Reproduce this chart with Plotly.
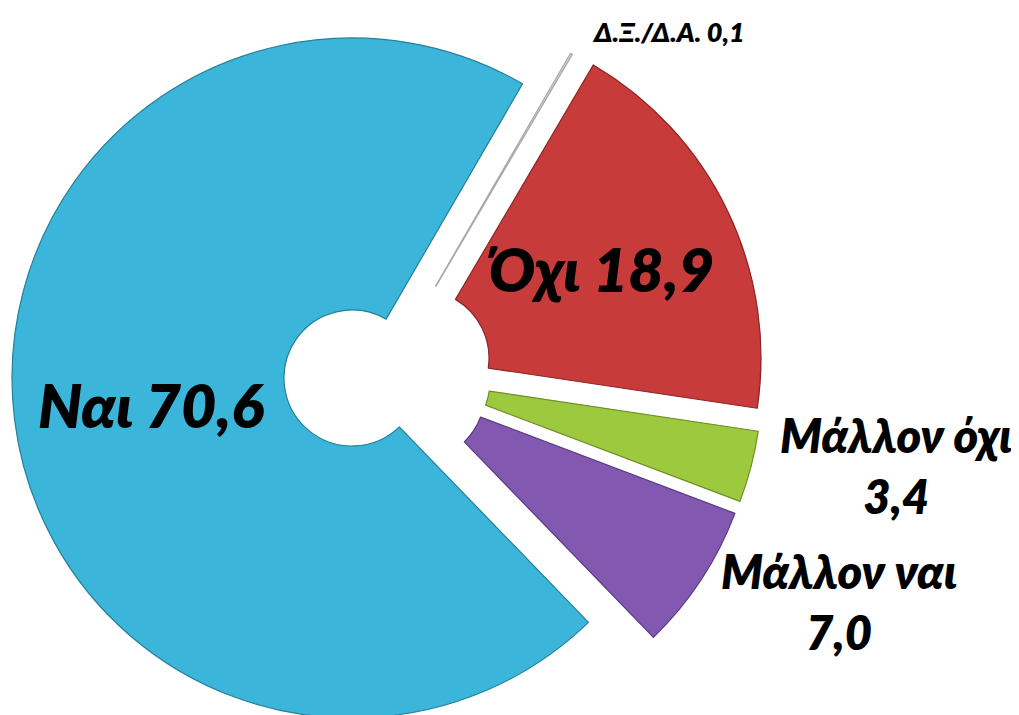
import plotly.graph_objects as go

# ---- data ----
labels = ["Δ.Ξ./Δ.Α.", "Όχι", "Μάλλον όχι", "Μάλλον ναι", "Ναι"]
values = [0.1, 18.9, 3.4, 7.0, 70.6]

# ---- styles / layout ----
PAGE_OFFSET = 8          # default body margin of the html page
W, H = 1019, 780         # figure taller than the window: bottom is cropped like the original
colors = ["#D3D3D3", "#C73B3B", "#9DC93F", "#8258B1", "#3BB5D9"]
edges = ["#A8A8A8", "#8E2424", "#6E8F25", "#573A80", "#24809C"]
# on-screen pixel centre of each (exploded) slice
centers = [(402, 344), (421, 358), (422, 381), (417, 393), (352, 378)]
radius = 340
hole = 0.2
start_angle = 30.1  # degrees clockwise from 12 o'clock

# on-screen label centre (x, y) and font size
label_pos = [(668, 31, 27), (601, 269, 61), (896, 465, 47), (839, 601, 47), (151, 404, 61)]
font_family = "Lato, 'Open Sans', 'DejaVu Sans', sans-serif"


def fmt(v):
    return f"{v:.1f}".replace(".", ",")


fig = go.Figure()
order = [4, 0, 1, 2, 3]  # draw the big slice first
for i in order:
    cx, cy = centers[i]
    cx -= PAGE_OFFSET
    cy -= PAGE_OFFSET
    r = min(radius, cx, W - cx, cy, H - cy)
    dom_x = [(cx - r) / W, (cx + r) / W]
    dom_y = [1 - (cy + r) / H, 1 - (cy - r) / H]
    fill = ["rgba(0,0,0,0)"] * len(values)
    fill[i] = colors[i]
    lw = [0] * len(values)
    lw[i] = 1.2
    lc = ["rgba(0,0,0,0)"] * len(values)
    lc[i] = edges[i]
    fig.add_trace(go.Pie(
        labels=labels, values=values, sort=False, direction="clockwise",
        rotation=start_angle, hole=hole,
        marker=dict(colors=fill, line=dict(color=lc, width=lw)),
        textinfo="none", hoverinfo="skip", showlegend=False,
        domain=dict(x=dom_x, y=dom_y),
    ))

annotations = []
for i, (px, py, size) in enumerate(label_pos):
    if labels[i].startswith("Μάλλον"):
        txt = f"{labels[i]}<br>{fmt(values[i])}"
    else:
        txt = f"{labels[i]} {fmt(values[i])}"
    annotations.append(dict(
        x=(px - PAGE_OFFSET) / W, y=1 - (py - PAGE_OFFSET) / H, xref="paper", yref="paper",
        text=txt, showarrow=False, xanchor="center", yanchor="middle", align="center",
        font=dict(family=font_family, size=size, color="#000000", weight=800, style="italic"),
    ))

fig.update_layout(
    width=W, height=H,
    margin=dict(l=0, r=0, t=0, b=0),
    paper_bgcolor="white", plot_bgcolor="white",
    annotations=annotations,
)

fig.write_html("out.html")
